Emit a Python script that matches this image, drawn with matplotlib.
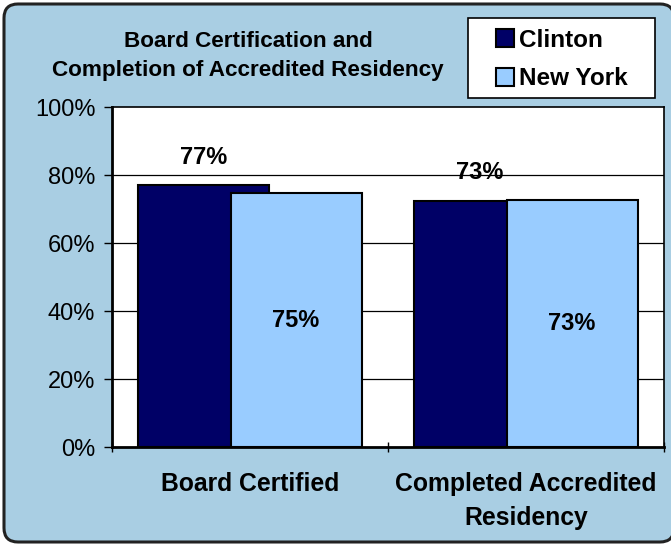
import numpy as np
import matplotlib
matplotlib.use("Agg")
from matplotlib import pyplot as plt
from matplotlib.patches import FancyBboxPatch, Patch, Rectangle
from matplotlib.transforms import IdentityTransform

plt.rcParams["font.family"] = ["Liberation Sans", "DejaVu Sans"]

categories = ["Board Certified", "Completed Accredited\nResidency"]
series = ["Clinton", "New York"]
clinton = [0.771, 0.725]
new_york = [0.746, 0.727]
labels_clinton = ["77%", "73%"]
labels_ny = ["75%", "73%"]
y_ticks = [0, 0.2, 0.4, 0.6, 0.8, 1.0]
y_labels = ["0%", "20%", "40%", "60%", "80%", "100%"]

bg = "#A9CEE3"
c_clinton = "#000066"
c_ny = "#99CCFF"

W, H = 671, 544
fig = plt.figure(figsize=(W / 100, H / 100), dpi=100, facecolor="white")

# rounded outer frame, drawn in pixel coords
frame = FancyBboxPatch((4, 2), 670, 538, boxstyle="round,pad=0,rounding_size=14",
                       transform=IdentityTransform(), facecolor=bg,
                       edgecolor="#222222", linewidth=2.2, zorder=-5)
fig.patches.append(frame)

ax = fig.add_axes([112 / W, (H - 447) / H, (664 - 112) / W, (447 - 107) / H])
ax.set_zorder(2)
ax.set_facecolor("white")

x = np.arange(len(categories)) + 0.5
width = 0.475
off = 0.167

ax.bar(x - off, clinton, width, color=c_clinton, edgecolor="black", linewidth=1.5, zorder=2)
ax.bar(x + off, new_york, width, color=c_ny, edgecolor="black", linewidth=1.5, zorder=3)

for xi, v, t in zip(x - off, clinton, labels_clinton):
    ax.annotate(t, (xi, v), xytext=(0, 20), textcoords="offset points",
                ha="center", va="center", fontsize=17, fontweight="bold", zorder=5)
for xi, v, t in zip(x + off, new_york, labels_ny):
    ax.text(xi, v / 2, t, ha="center", va="center", fontsize=17, fontweight="bold", zorder=5)

ax.set_xlim(0, 2)
ax.set_ylim(0, 1)
ax.set_yticks(y_ticks)
ax.set_yticklabels(y_labels, fontsize=17)
for yv in y_ticks[1:-1]:
    ax.axhline(yv, color="black", linewidth=0.9, zorder=1)

ax.set_xticks([0, 1, 2])
ax.set_xticklabels([])
ax.set_xticks(x, minor=True)
ax.set_xticklabels(categories, minor=True, fontsize=17.8, fontweight="bold")
for lbl in ax.get_xticklabels(minor=True):
    lbl.set_linespacing(1.5)
ax.tick_params(axis="x", which="minor", length=0, pad=18)
ax.tick_params(axis="x", which="major", length=7, direction="inout", width=1)
ax.tick_params(axis="y", length=6, width=1, direction="out", pad=6)

for s in ax.spines.values():
    s.set_color("black")
    s.set_linewidth(1.2)
ax.spines["left"].set_linewidth(2)
ax.spines["bottom"].set_linewidth(2)

fig.text(248 / W, 1 - 56 / H, "Board Certification and\nCompletion of Accredited Residency",
         ha="center", va="center", fontsize=16.2, fontweight="bold", linespacing=1.45)

# legend box drawn separately so the padding matches
box = Rectangle((468, H - 98), 187, 80, transform=IdentityTransform(),
                facecolor="white", edgecolor="black", linewidth=1.2, zorder=3)
fig.patches.append(box)
handles = [Patch(facecolor=c_clinton, edgecolor="black", linewidth=1.5),
           Patch(facecolor=c_ny, edgecolor="black", linewidth=1.5)]
leg = fig.legend(handles, series, loc="center", bbox_to_anchor=(562 / W, 1 - 59.5 / H),
                 prop={"size": 17.5, "weight": "bold"}, frameon=False,
                 handlelength=0.72, handleheight=0.72,
                 handletextpad=0.22, labelspacing=0.65, borderpad=0,
                 borderaxespad=0)
leg.set_zorder(4)

fig.savefig("out.png", dpi=100, facecolor=fig.get_facecolor())
